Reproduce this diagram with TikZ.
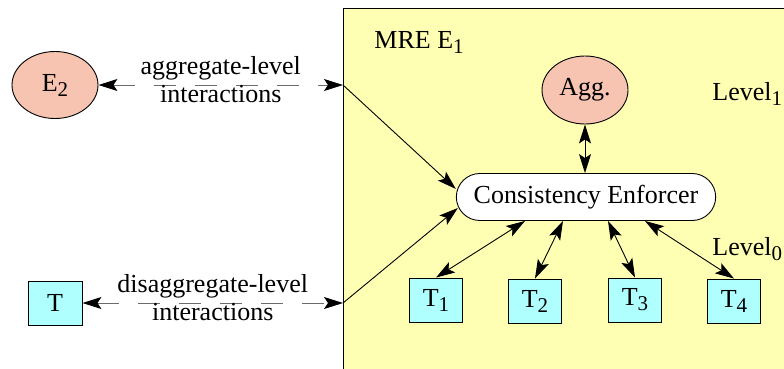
\documentclass[tikz,border=0pt]{standalone}
\usepackage{fontspec}
\setmainfont{Liberation Serif}
\usetikzlibrary{arrows.meta,shapes.geometric,shapes.misc}
\definecolor{mreyellow}{RGB}{255,255,180}
\definecolor{aggsalmon}{RGB}{246,196,176}
\definecolor{tcyan}{RGB}{176,255,255}
\newcommand\lowsub[1]{\raisebox{-5pt}{\fontsize{21}{21}\selectfont #1}}

\begin{document}
\begin{tikzpicture}[x=1pt,y=-1pt,line width=0.9pt,
	font=\fontsize{26}{28}\selectfont,
	tbox/.style={rectangle, draw, fill=tcyan, minimum width=53pt, minimum height=44pt, inner sep=0pt},
	entity/.style={ellipse, draw, fill=aggsalmon, minimum width=86pt, minimum height=68pt, inner sep=0pt},
	link/.style={{Stealth[length=19pt,width=12pt,inset=4pt,color=black]}-{Stealth[length=19pt,width=12pt,inset=4pt,color=black]}},
	feed/.style={-{Stealth[length=19pt,width=12pt,inset=4pt]}},
	dashlink/.style={link, draw=black!58, dash pattern=on 22pt off 19pt}]
\clip (0,0) rectangle (784,368);
\node [draw, fill=mreyellow, anchor=north west, minimum width=470pt, minimum height=390pt] (mre) at (343,8) {};
\node [anchor=base west, inner sep=0pt] (mrelabel) at (374,48) {MRE E\lowsub{1}};
\node [anchor=base west, inner sep=0pt] (lvl1) at (712,100) {Level\lowsub{1}};
\node [anchor=base west, inner sep=0pt] (lvl0) at (712,255) {Level\lowsub{0}};

\node [entity] (agg) at (585,90) {Agg.};
\node [rounded rectangle, draw, fill=white, minimum width=266pt, minimum height=47pt] (ce) at (586,197) {Consistency Enforcer};
\node [tbox] (t1) at (436,300) {T\lowsub{1}};
\node [tbox] (t2) at (535,301) {T\lowsub{2}};
\node [tbox] (t3) at (635,300) {T\lowsub{3}};
\node [tbox] (t4) at (734,301) {T\lowsub{4}};

\node [entity, minimum height=67pt] (e2) at (55,85) {E\lowsub{2}};
\node [tbox, minimum width=54pt] (t) at (55,303) {T};
\coordinate (gate1) at (343,85);
\coordinate (gate2) at (343,303);

% outside interactions
\draw [dashlink] (e2) -- (gate1) node [midway, align=center, yshift=5pt] {aggregate-level\\interactions};
\draw [dashlink] (t) -- (gate2) node [midway, align=center, yshift=5pt] {disaggregate-level\\interactions};
\draw [feed] (gate1) -- ([yshift=8pt]ce.west);
\draw [feed] (gate2) -- ([shift={(2pt,-11pt)}]ce.west);

% inside the MRE
\draw [link] (agg.south) -- (agg.south |- ce.north);
\draw [link] (t1.north) -- ([xshift=-61pt]ce.south);
\draw [link] (t2.north) -- ([xshift=-23pt]ce.south);
\draw [link] (t3.north) -- ([xshift=22pt]ce.south);
\draw [link] (t4.north) -- ([xshift=59pt]ce.south);
\end{tikzpicture}
\end{document}
